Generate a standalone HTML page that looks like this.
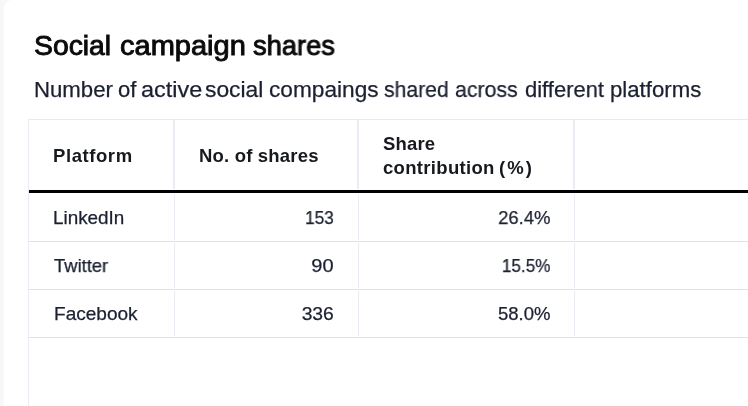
<!DOCTYPE html>
<html lang="en">
<head>
<meta charset="utf-8">
<title>Social campaign shares</title>
<style>
  html, body { margin: 0; padding: 0; }
  body {
    width: 748px; height: 406px; overflow: hidden; position: relative;
    background: #f6f7f9;
    font-family: "Liberation Sans", sans-serif;
  }
  /* white card, clipped by the viewport on the right and bottom */
  .card {
    position: absolute; left: 3px; top: 0; width: 760px; height: 420px;
    background: #ffffff; border-left: 1px solid #fafbfc; border-top-left-radius: 9px;
  }
  /* inner coordinate space == page coordinates */
  .page { position: absolute; left: -4px; top: 0; width: 748px; height: 406px; }
  h1, p { margin: 0; font-weight: 400; font-size: 0; line-height: 0; }
  table, thead, tbody, tr, th.multi { display: contents; }
  th, td { display: block; padding: 0; }
  .t { position: absolute; white-space: nowrap; line-height: 1; margin: 0; font-weight: 400; will-change: transform; }
  .l { transform-origin: 0 50%; text-align: left; }
  .r { transform-origin: 100% 50%; text-align: right; }
  .title { color: #0a0b0d; -webkit-text-stroke: 0.9px #0a0b0d; }
  .sub { color: #1b2030; -webkit-text-stroke: 0.25px #1b2030; }
  .h { font-weight: 700; color: #16191d; }
  .b { color: #1b2030; -webkit-text-stroke: 0.25px #1b2030; }
  .ln { position: absolute; }
  .v { width: 1px; background: #eaecf3; }
  .hz { height: 1px; background: #dee2eb; }
</style>
</head>
<body>
<main class="card"><div class="page">

<!-- table grid lines -->
<div class="ln hz" style="left:28px; top:119px; width:720px; background:#e9ebf3;"></div>
<div class="ln v" style="left:28px; top:119px; height:287px;"></div>
<div class="ln v" style="left:173px; top:120px; height:69px; width:2px;"></div>
<div class="ln v" style="left:357px; top:120px; height:69px; width:2px;"></div>
<div class="ln v" style="left:573px; top:120px; height:69px; width:2px;"></div>
<div class="ln" style="left:29px; top:190px; width:719px; height:3px; background:#000;"></div>
<div class="ln v" style="left:174px; top:194px; height:46px;"></div>
<div class="ln v" style="left:174px; top:243px; height:45px;"></div>
<div class="ln v" style="left:174px; top:291px; height:45px;"></div>
<div class="ln v" style="left:358px; top:194px; height:46px;"></div>
<div class="ln v" style="left:358px; top:243px; height:45px;"></div>
<div class="ln v" style="left:358px; top:291px; height:45px;"></div>
<div class="ln v" style="left:574px; top:194px; height:46px;"></div>
<div class="ln v" style="left:574px; top:243px; height:45px;"></div>
<div class="ln v" style="left:574px; top:291px; height:45px;"></div>
<div class="ln hz" style="left:29px; top:241px; width:719px;"></div>
<div class="ln hz" style="left:29px; top:289px; width:719px;"></div>
<div class="ln hz" style="left:29px; top:337px; width:719px;"></div>

<h1><span class="t title l" id="t1" style="left:34px; top:32px; font-size:27.5px; transform:scaleX(1.0300);">Social</span> <span class="t title l" id="t2" style="left:120px; top:32px; font-size:27.5px; transform:scaleX(1.0552);">campaign</span> <span class="t title l" id="t3" style="left:253px; top:32px; font-size:27.5px; transform:scaleX(0.9925);">shares</span></h1>
<p><span class="t sub l" id="s1" style="left:34px; top:79px; font-size:22px; transform:scaleX(1.0086);">Number</span> <span class="t sub l" id="s2" style="left:118px; top:79px; font-size:22px; transform:scaleX(0.9972);">of</span> <span class="t sub l" id="s3" style="left:141px; top:79px; font-size:22px; transform:scaleX(1.0649);">active</span> <span class="t sub l" id="s4" style="left:205px; top:79px; font-size:22px; transform:scaleX(1.0380);">social</span> <span class="t sub l" id="s5" style="left:269px; top:79px; font-size:22px; transform:scaleX(1.0302);">compaings</span> <span class="t sub l" id="s6" style="left:384px; top:79px; font-size:22px; transform:scaleX(0.9623);">shared</span> <span class="t sub l" id="s7" style="left:455px; top:79px; font-size:22px; transform:scaleX(0.9690);">across</span> <span class="t sub l" id="s8" style="left:525px; top:79px; font-size:22px; transform:scaleX(0.9982);">different</span> <span class="t sub l" id="s9" style="left:610px; top:79px; font-size:22px; transform:scaleX(1.0085);">platforms</span></p>

<table>
<thead>
<tr>
  <th class="t h l" id="h1" style="left:53px; top:147px; font-size:18.5px; letter-spacing:0.579px;">Platform</th>
  <th class="t h l" id="h2" style="left:199px; top:147px; font-size:18.5px; letter-spacing:0.188px;">No. of shares</th>
  <th class="multi"><span class="t h l" id="h3a" style="left:383px; top:135px; font-size:18.5px; letter-spacing:0.175px;">Share</span> <span class="t h l" id="h3b" style="left:383px; top:159px; font-size:18.5px; letter-spacing:0.319px;">contribution</span> <span class="t h l" id="h3c" style="left:499px; top:159px; font-size:18.5px; letter-spacing:2.085px;">(%)</span></th>
</tr>
</thead>
<tbody>
<tr>
  <td class="t b l" id="r1a" style="left:53px; top:209px; font-size:18.5px; transform:scaleX(1.0194);">LinkedIn</td>
  <td class="t b r" id="r1b" style="right:414px; top:209px; font-size:18.5px; transform:scaleX(0.9333);">153</td>
  <td class="t b r" id="r1c" style="right:198px; top:209px; font-size:18.5px; transform:scaleX(0.9970);">26.4%</td>
</tr>
<tr>
  <td class="t b l" id="r2a" style="left:54px; top:257px; font-size:18.5px; transform:scaleX(0.9934);">Twitter</td>
  <td class="t b r" id="r2b" style="right:414px; top:257px; font-size:18.5px; transform:scaleX(1.0829);">90</td>
  <td class="t b r" id="r2c" style="right:198px; top:257px; font-size:18.5px; transform:scaleX(0.9264);">15.5%</td>
</tr>
<tr>
  <td class="t b l" id="r3a" style="left:54px; top:305px; font-size:18.5px; transform:scaleX(1.0289);">Facebook</td>
  <td class="t b r" id="r3b" style="right:414px; top:305px; font-size:18.5px; transform:scaleX(1.0445);">336</td>
  <td class="t b r" id="r3c" style="right:198px; top:305px; font-size:18.5px;">58.0%</td>
</tr>
</tbody>
</table>

</div></main>
</body>
</html>
